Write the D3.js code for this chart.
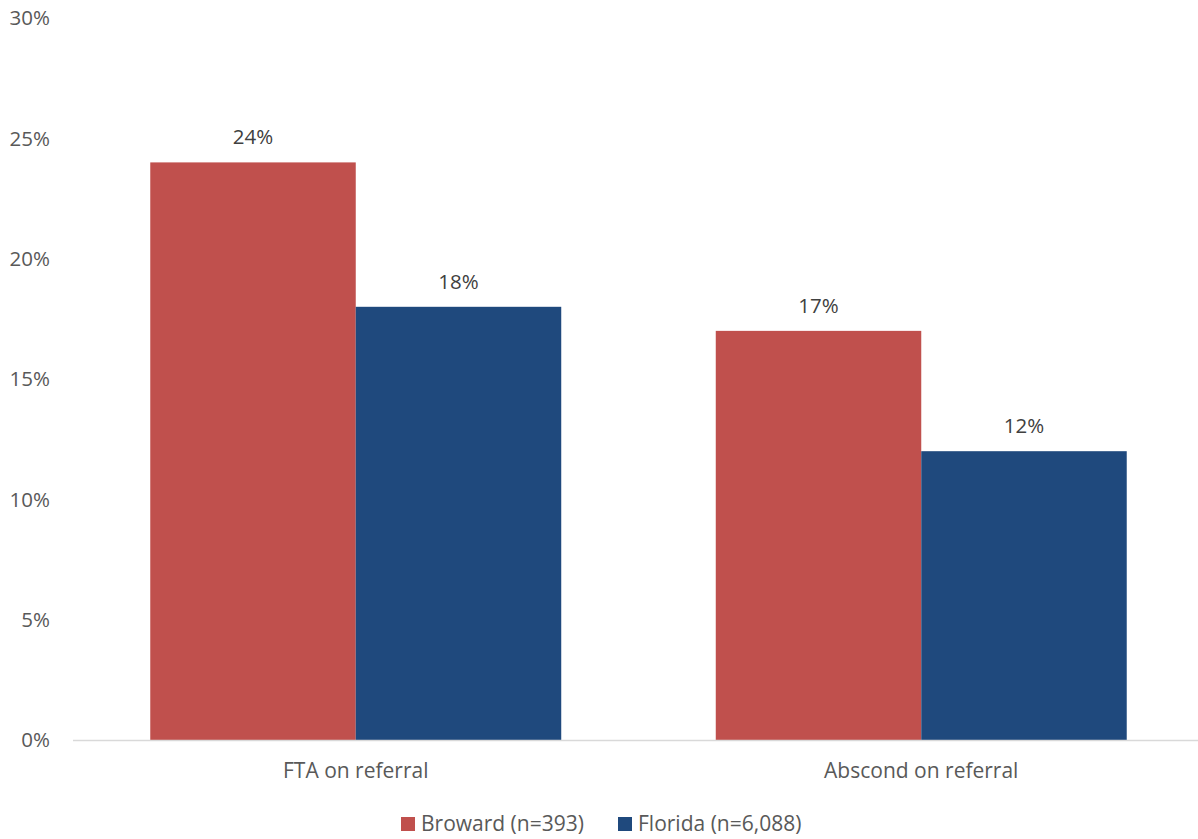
<!DOCTYPE html>
<html>
<head>
<meta charset="utf-8">
<script src="https://cdn.jsdelivr.net/npm/d3@7"></script>
<style>
  body { margin: 0; background: #fff; }
  text { font-family: "Open Sans", sans-serif; fill: #595959; }
</style>
</head>
<body>
<div id="chart"></div>
<script>
const categories = ["FTA on referral", "Abscond on referral"];
const seriesNames = ["Broward (n=393)", "Florida (n=6,088)"];
const broward = [0.24, 0.17];
const florida = [0.18, 0.12];
const yTicks = [0, 0.05, 0.10, 0.15, 0.20, 0.25, 0.30];
const colors = ["#C0504D", "#1F497D"];

const width = 1198;
const height = 839;
const margin = { top: 18, right: -6, bottom: 99, left: 73 };

const svg = d3.select("#chart")
    .append("svg")
    .attr("width", width)
    .attr("height", height);

const rows = categories.map((c, i) => ({ cat: c, values: [broward[i], florida[i]] }));

const x0 = d3.scaleBand()
    .domain(categories)
    .range([margin.left, width - margin.right])
    .paddingInner(0)
    .paddingOuter(0);

const x1 = d3.scaleBand()
    .domain(seriesNames)
    .range([0, x0.bandwidth()])
    .paddingInner(0)
    .paddingOuter(0.376);

const y = d3.scaleLinear()
    .domain([0, 0.30])
    .range([height - margin.bottom, margin.top]);

// y tick labels
svg.append("g")
    .selectAll("text")
    .data(yTicks)
    .join("text")
    .attr("x", 50)
    .attr("y", d => y(d))
    .attr("dy", "0.35em")
    .attr("text-anchor", "end")
    .style("font-size", "20.5px")
    .text(d => d3.format(".0%")(d));

// bars
const groups = svg.append("g")
    .selectAll("g")
    .data(rows)
    .join("g")
    .attr("transform", d => `translate(${x0(d.cat)},0)`);

groups.selectAll("rect")
    .data(d => d.values.map((v, i) => ({ key: seriesNames[i], value: v, i })))
    .join("rect")
    .attr("x", d => x1(d.key))
    .attr("y", d => y(d.value))
    .attr("width", x1.bandwidth())
    .attr("height", d => y(0) - y(d.value))
    .attr("fill", d => colors[d.i]);

groups.selectAll("text")
    .data(d => d.values.map((v, i) => ({ key: seriesNames[i], value: v })))
    .join("text")
    .attr("x", d => x1(d.key) + x1.bandwidth() / 2)
    .attr("y", d => y(d.value) - 18)
    .attr("text-anchor", "middle")
    .style("font-size", "20.5px")
    .style("fill", "#404040")
    .text(d => d3.format(".0%")(d.value));

// x axis
svg.append("line")
    .attr("x1", margin.left)
    .attr("x2", width)
    .attr("y1", y(0) + 0.5)
    .attr("y2", y(0) + 0.5)
    .attr("stroke", "#d9d9d9")
    .attr("stroke-width", 1.5);

svg.append("g")
    .selectAll("text")
    .data(categories)
    .join("text")
    .attr("x", d => x0(d) + x0.bandwidth() / 2)
    .attr("y", 778)
    .attr("text-anchor", "middle")
    .style("font-size", "21px")
    .text(d => d);

// legend
const legendX = [401, 618];
const legend = svg.append("g")
    .selectAll("g")
    .data(seriesNames)
    .join("g")
    .attr("transform", (d, i) => `translate(${legendX[i]},817)`);

legend.append("rect")
    .attr("width", 14)
    .attr("height", 14)
    .attr("fill", (d, i) => colors[i]);

legend.append("text")
    .attr("x", 20)
    .attr("y", 14)
    .style("font-size", "21px")
    .text(d => d);
</script>
</body>
</html>
